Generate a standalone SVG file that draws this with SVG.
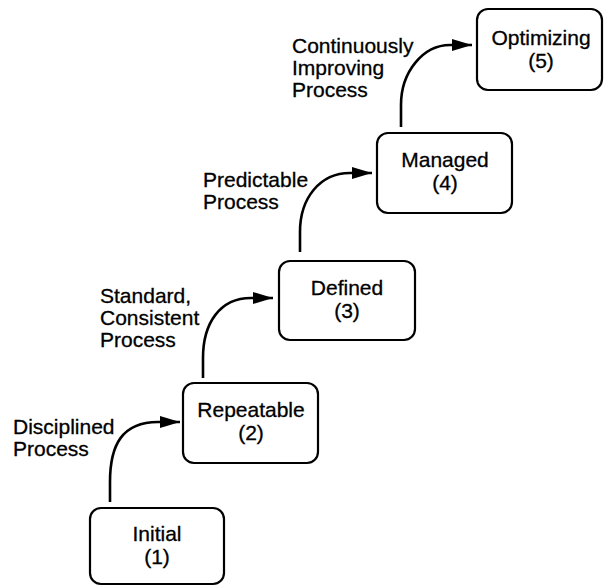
<svg xmlns="http://www.w3.org/2000/svg" width="604" height="586" viewBox="0 0 604 586">
<defs>
<marker id="ah" markerUnits="userSpaceOnUse" markerWidth="22" markerHeight="14" refX="20" refY="7" orient="auto">
<path d="M0,1 L20,7 L0,13 Z" fill="#000"/>
</marker>
</defs>
<style>
.box{fill:#fff;stroke:#000;stroke-width:2.2}
.t{font-family:"Liberation Sans",Arial,sans-serif;font-size:21px;fill:#000;stroke:#000;stroke-width:0.3}
.c{text-anchor:middle}
.arr{fill:none;stroke:#000;stroke-width:2.6;marker-end:url(#ah)}
</style>
<rect width="604" height="586" fill="#fff"/>
<g id="connectors">
<path class="arr" d="M110,502 L110,482 C110,445 122,422 158,422 L180,422"/>
<path class="arr" d="M203,378 L203,358 C203,323 220,298 251,298 L273,298"/>
<path class="arr" d="M300,252 L300,232 C300,198 320,173 350,173 L372,173"/>
<path class="arr" d="M401,127 L401,105 C401,72 423,45 450,45 L472,45"/>
</g>
<g id="labels">
<text class="t" x="13" y="434">Disciplined</text>
<text class="t" x="13" y="456">Process</text>
<text class="t" x="100" y="303">Standard,</text>
<text class="t" x="100" y="325">Consistent</text>
<text class="t" x="100" y="347">Process</text>
<text class="t" x="203" y="187">Predictable</text>
<text class="t" x="203" y="209">Process</text>
<text class="t" x="292" y="53">Continuously</text>
<text class="t" x="292" y="75">Improving</text>
<text class="t" x="292" y="97">Process</text>
</g>
<g id="initial">
<rect class="box" x="90" y="508" width="134" height="76" rx="11"/>
<text class="t c" x="157" y="541">Initial</text>
<text class="t c" x="157" y="564">(1)</text>
</g>
<g id="repeatable">
<rect class="box" x="183" y="383" width="135" height="80" rx="11"/>
<text class="t c" x="251" y="417">Repeatable</text>
<text class="t c" x="251" y="440">(2)</text>
</g>
<g id="defined">
<rect class="box" x="279" y="261" width="136" height="79" rx="11"/>
<text class="t c" x="347" y="295">Defined</text>
<text class="t c" x="347" y="318">(3)</text>
</g>
<g id="managed">
<rect class="box" x="377" y="133" width="135" height="80" rx="11"/>
<text class="t c" x="445" y="167">Managed</text>
<text class="t c" x="445" y="190">(4)</text>
</g>
<g id="optimizing">
<rect class="box" x="477" y="9" width="125" height="81" rx="11"/>
<text class="t c" x="541" y="45">Optimizing</text>
<text class="t c" x="541" y="68">(5)</text>
</g>
</svg>
